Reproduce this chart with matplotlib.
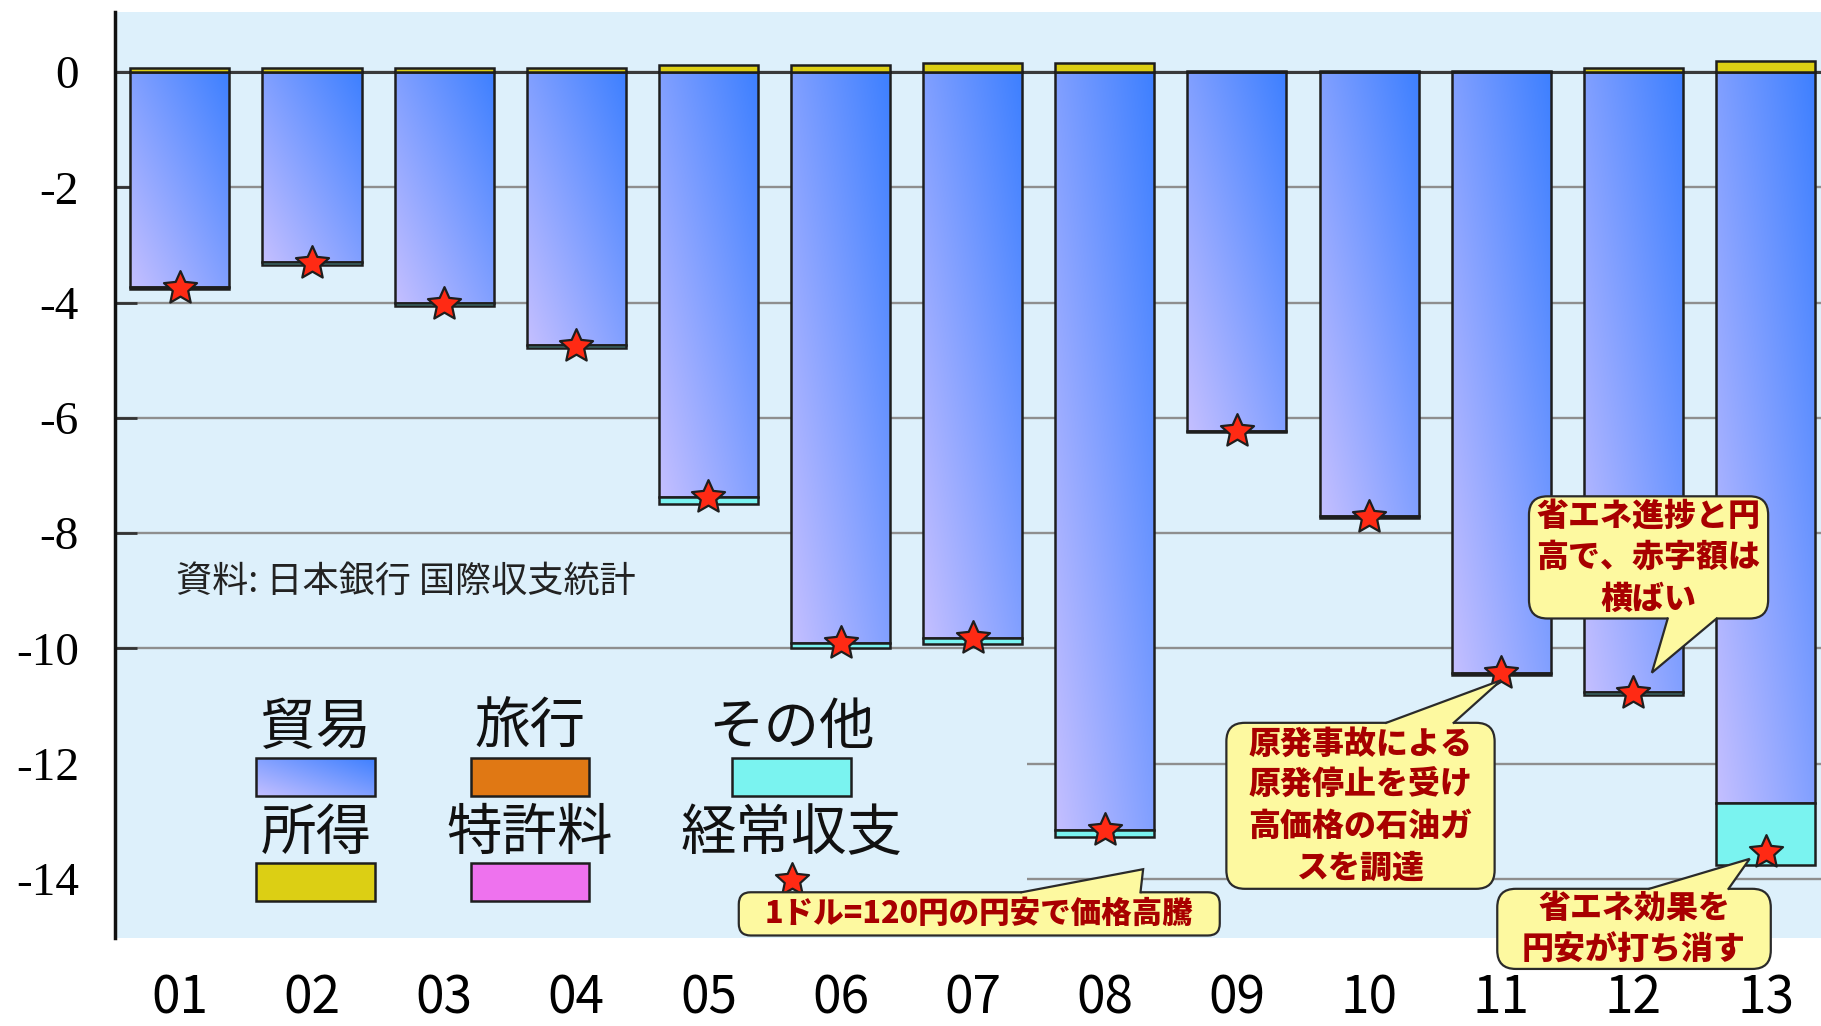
import numpy as np
import matplotlib
matplotlib.use('Agg')
import matplotlib.pyplot as plt
from matplotlib.patches import Rectangle, FancyBboxPatch, Polygon
from matplotlib.path import Path
from matplotlib import rcParams

rcParams['axes.unicode_minus'] = False

jp_font = ['Noto Sans CJK JP', 'DejaVu Sans']
num_font_y = ['Liberation Serif', 'DejaVu Serif']
num_font_x = ['Liberation Sans Narrow', 'Noto Sans CJK JP', 'DejaVu Sans']

# ---------------- data ----------------
years = ['01', '02', '03', '04', '05', '06', '07', '08', '09', '10', '11', '12', '13']
trade = [-3.72, -3.30, -4.01, -4.74, -7.37, -9.90, -9.82, -13.15, -6.22, -7.70, -10.43, -10.76, -12.68]
income = [0.08, 0.08, 0.08, 0.08, 0.12, 0.12, 0.15, 0.16, 0.02, 0.02, 0.02, 0.07, 0.19]
other = [-0.04, -0.04, -0.04, -0.04, -0.12, -0.10, -0.10, -0.12, -0.03, -0.03, -0.03, -0.04, -1.08]
current = [-3.75, -3.31, -4.03, -4.75, -7.38, -9.91, -9.82, -13.15, -6.22, -7.72, -10.43, -10.78, -13.53]

y_ticks = [0, -2, -4, -6, -8, -10, -12, -14]

source_text = '資料: 日本銀行 国際収支統計'

legend_labels = ['貿易', '旅行', 'その他', '所得', '特許料', '経常収支']

callout_texts = [
    '1ドル=120円の円安で価格高騰',
    '原発事故による\n原発停止を受け\n高価格の石油ガ\nスを調達',
    '省エネ進捗と円\n高で、赤字額は\n横ばい',
    '省エネ効果を\n円安が打ち消す',
]

# ---------------- style ----------------
bg_color = '#ddf0fb'
grad_light = np.array([0.77, 0.75, 1.00])
grad_dark = np.array([0.24, 0.50, 1.00])
color_travel = '#e07814'
color_other = '#7af3f0'
color_income = '#dccf14'
color_patent = '#ee72ee'
star_color = '#ff2a14'
edge_c = '#1e1e1e'
bubble_fc = '#fdf9a0'
bubble_text = '#a80000'

bar_width = 0.75
x_min, x_max = -0.49, 12.42
y_min, y_max = -15.03, 1.05

# fat five pointed star for the current-account marker
star_verts = []
for i in range(10):
    ang = np.pi / 2 + i * np.pi / 5
    r = 1.0 if i % 2 == 0 else 0.47
    star_verts.append((r * np.cos(ang), r * np.sin(ang)))
star_verts.append(star_verts[0])
star_marker = Path(star_verts, [Path.MOVETO] + [Path.LINETO] * 9 + [Path.CLOSEPOLY])

fig = plt.figure(figsize=(18.21, 10.26), dpi=100)
ax = fig.add_axes([0.0632, 0.0854, 0.9368, 0.9033])
ax.set_facecolor(bg_color)


def gradient_fill(patch, zorder):
    bb = patch.get_bbox()
    x0, x1 = min(bb.x0, bb.x1), max(bb.x0, bb.x1)
    lo, hi = min(bb.y0, bb.y1), max(bb.y0, bb.y1)
    u, v = np.meshgrid(np.linspace(0, 1, 60), np.linspace(0, 1, 160))
    t = 0.5 * u + 0.5 * v
    img = grad_light[None, None, :] * (1 - t)[..., None] + grad_dark[None, None, :] * t[..., None]
    im = ax.imshow(img, extent=(x0, x1, lo, hi), origin='lower', aspect='auto',
                   interpolation='bilinear', zorder=zorder)
    im.set_clip_path(patch)


x = np.arange(len(years))

# trade bars: outline + diagonal gradient clipped inside
trade_bars = ax.bar(x, trade, width=bar_width, facecolor='none', edgecolor=edge_c, linewidth=1.8, zorder=4)
for p in trade_bars:
    gradient_fill(p, 3)

ax.bar(x, other, width=bar_width, bottom=trade, color=color_other, edgecolor=edge_c, linewidth=1.8, zorder=4)
ax.bar(x, income, width=bar_width, color=color_income, edgecolor=edge_c, linewidth=1.8, zorder=4)

ax.plot(x, current, linestyle='none', marker=star_marker, markersize=25,
        markerfacecolor=star_color, markeredgecolor=edge_c, markeredgewidth=1.6, zorder=6)

# grid + zero line
ax.set_yticks(y_ticks)
ax.set_yticklabels([str(v) for v in y_ticks])
ax.yaxis.grid(True, color='#8e8e8e', linewidth=1.7)
ax.set_axisbelow(True)
ax.axhline(0, color='#3a3a3a', linewidth=2.2, zorder=2)

# ---------------- legend block ----------------
ax.add_patch(Rectangle((x_min, y_min), 6.9, 4.45, facecolor=bg_color, edgecolor='none', zorder=1))

leg_cx = [1.03, 2.65, 4.63]
leg_text_y = [-11.38, -13.22]
leg_box_top = [-11.90, -13.73]
leg_box_h = 0.66
leg_box_w = 0.90
leg_colors = [None, color_travel, color_other, color_income, color_patent, None]

for i, lab in enumerate(legend_labels):
    row, col = divmod(i, 3)
    cx = leg_cx[col]
    ax.text(cx, leg_text_y[row], lab, fontsize=40, family=jp_font, ha='center', va='center',
            color='#111111', zorder=5)
    if i == 5:
        ax.plot([cx], [leg_box_top[row] - 0.28], marker=star_marker, markersize=25,
                markerfacecolor=star_color, markeredgecolor=edge_c, markeredgewidth=1.6, zorder=6)
        continue
    sw = Rectangle((cx - leg_box_w / 2, leg_box_top[row] - leg_box_h), leg_box_w, leg_box_h,
                   facecolor='none' if i == 0 else leg_colors[i], edgecolor=edge_c, linewidth=1.8, zorder=4)
    ax.add_patch(sw)
    if i == 0:
        gradient_fill(sw, 3)

ax.text(-0.03, -8.85, source_text, fontsize=26, family=jp_font, ha='left', va='center',
        color='#222222', zorder=5)

# ---------------- speech bubbles ----------------
# x per unit vs y per unit in pixels, used to keep corners round
px_per_x = ax.get_position().width * fig.get_figwidth() * fig.dpi / (x_max - x_min)
px_per_y = ax.get_position().height * fig.get_figheight() * fig.dpi / (y_max - y_min)
aspect = px_per_x / px_per_y


def bubble(text, box, base, tip, fontsize, rounding=0.14):
    bx0, bx1, by0, by1 = box
    fb = FancyBboxPatch((bx0, by0), bx1 - bx0, by1 - by0,
                        boxstyle='round,pad=0,rounding_size=%f' % rounding,
                        mutation_aspect=aspect, facecolor=bubble_fc, edgecolor='#2a2a2a',
                        linewidth=1.6, zorder=8, clip_on=False)
    ax.add_patch(fb)
    xa, xb, ye = base
    into = -0.08 if ye == by1 else 0.08
    poly = Polygon([(xa, ye + into), (xa, ye), tip, (xb, ye), (xb, ye + into)],
                   closed=True, facecolor=bubble_fc, edgecolor='none', zorder=9, clip_on=False)
    ax.add_patch(poly)
    ax.plot([xa, tip[0], xb], [ye, tip[1], ye], color='#2a2a2a', linewidth=1.6,
            zorder=9, clip_on=False, solid_joinstyle='miter')
    ax.text((bx0 + bx1) / 2, (by0 + by1) / 2, text, fontsize=fontsize, family=jp_font,
            fontweight='black', color=bubble_text, ha='center', va='center',
            linespacing=1.3, zorder=10, clip_on=False)


bubble(callout_texts[0], (4.23, 7.87, -14.98, -14.23), (6.37, 7.27, -14.23), (7.29, -13.83), 22, 0.09)
bubble(callout_texts[1], (7.92, 9.95, -14.17, -11.29), (9.13, 9.64, -11.29), (10.0, -10.55), 23)
bubble(callout_texts[2], (10.21, 12.02, -9.48, -7.36), (11.26, 11.63, -9.48), (11.14, -10.42), 23)
bubble(callout_texts[3], (9.97, 12.04, -15.56, -14.17), (11.12, 11.72, -14.17), (11.88, -13.65), 23)

# ---------------- axes ----------------
ax.set_xticks(x)
ax.set_xticklabels(years)
ax.set_xlim(x_min, x_max)
ax.set_ylim(y_min, y_max)

for s in ['top', 'right', 'bottom']:
    ax.spines[s].set_visible(False)
ax.spines['left'].set_linewidth(2.5)
ax.spines['left'].set_color('#111111')

ax.tick_params(axis='y', direction='in', length=16, width=2, color='#333333', pad=26, labelsize=34)
ax.tick_params(axis='x', length=0, pad=24, labelsize=37)
for lab in ax.get_yticklabels():
    lab.set_fontfamily(num_font_y)
for lab in ax.get_xticklabels():
    lab.set_fontfamily(num_font_x)

fig.savefig('out.png', dpi=100, facecolor='white')
